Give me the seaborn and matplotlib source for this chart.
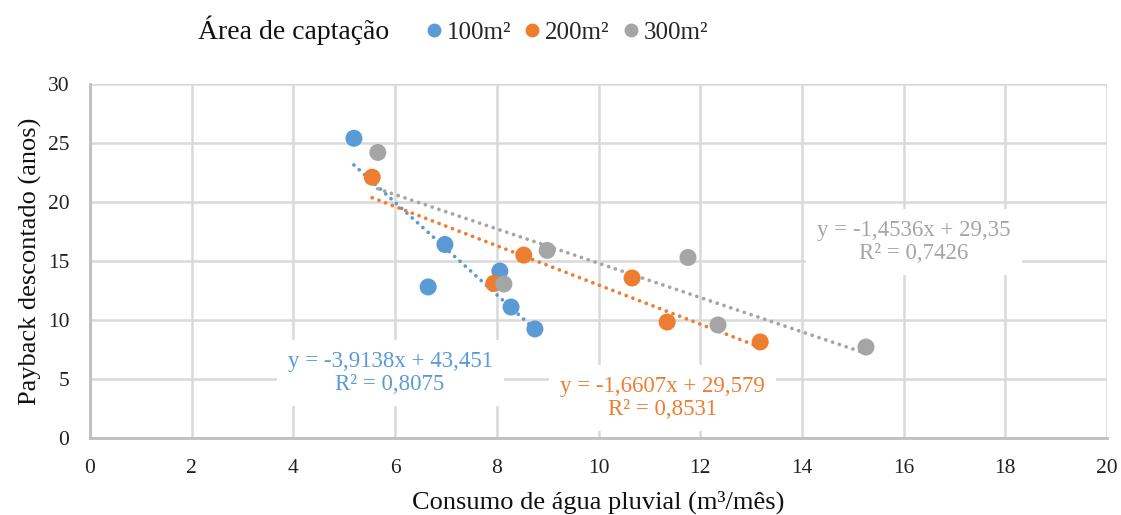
import numpy as np
import pandas as pd
import matplotlib
matplotlib.use("Agg")
import matplotlib.pyplot as plt
import seaborn as sns

# Rainwater consumption (m³/month) and discounted payback (years) per catchment area
x_100 = [5.19, 6.65, 6.98, 8.06, 8.28, 8.75]
y_100 = [25.4, 12.8, 16.4, 14.15, 11.1, 9.24]
x_200 = [5.55, 7.94, 8.53, 10.66, 11.35, 13.18]
y_200 = [22.1, 13.1, 15.5, 13.56, 9.83, 8.14]
x_300 = [5.66, 8.14, 8.99, 11.76, 12.35, 15.26]
y_300 = [24.2, 13.05, 15.9, 15.3, 9.58, 7.71]

areas = ["100m²", "200m²", "300m²"]
# Linear trendlines: slope, intercept, R²
slopes = [-3.9138, -1.6607, -1.4536]
intercepts = [43.451, 29.579, 29.35]
r2 = [0.8075, 0.8531, 0.7426]
eq_labels = ["y = -3,9138x + 43,451\nR² = 0,8075",
             "y = -1,6607x + 29,579\nR² = 0,8531",
             "y = -1,4536x + 29,35\nR² = 0,7426"]

colors = ["#5b9bd5", "#ed7d31", "#a5a5a5"]

df = pd.DataFrame({
    "x": x_100 + x_200 + x_300,
    "y": y_100 + y_200 + y_300,
    "area": [areas[0]] * len(x_100) + [areas[1]] * len(x_200) + [areas[2]] * len(x_300),
})

sns.set_theme(style="whitegrid")
plt.rcParams["font.family"] = ["Liberation Serif", "DejaVu Serif"]

fig = plt.figure(figsize=(11.21, 5.15), dpi=100)
ax = fig.add_axes([0.0803, 0.1495, 0.9072, 0.6874])

xs_all = [x_100, x_200, x_300]
for xs, m, b, c in zip(xs_all, slopes, intercepts, colors):
    xx = np.array([min(xs), max(xs)])
    ax.plot(xx, m * xx + b, linestyle=(0, (0.01, 1.9)), color=c, lw=2.7,
            dash_capstyle="round", solid_capstyle="round", zorder=2)

sns.scatterplot(data=df, x="x", y="y", hue="area", palette=colors,
                s=150, edgecolor="none", ax=ax, zorder=3, legend=False)

# Equation boxes
label_pos = [(5.9, 5.5), (11.25, 3.4), (16.2, 16.6)]
for (tx, ty), txt, c in zip(label_pos, eq_labels, colors):
    ax.text(tx, ty, txt, color=c, fontsize=16.5, ha="center", va="center",
            linespacing=1.1, zorder=4,
            bbox=dict(facecolor="white", edgecolor="none", pad=8))

ax.set_xlim(0, 20)
ax.set_ylim(0, 30)
ax.set_xticks(np.arange(0, 21, 2))
ax.set_yticks(np.arange(0, 31, 5))
ax.tick_params(labelsize=15.5, colors="#222222", length=0)
ax.tick_params(axis="x", pad=15)
ax.tick_params(axis="y", pad=15)
ax.grid(True, color="#d9d9d9", lw=1.8)
for side in ["top", "right"]:
    ax.spines[side].set_visible(False)
for side in ["left", "bottom"]:
    ax.spines[side].set_color("#bfbfbf")
    ax.spines[side].set_linewidth(2)

ax.set_xlabel("Consumo de água pluvial (m³/mês)", fontsize=19, color="#111111", labelpad=9)
ax.set_ylabel("Payback descontado (anos)", fontsize=19, color="#111111", labelpad=4)

# Legend with the title to the left of the entries
fig.text(0.177, 0.942, "Área de captação", fontsize=20, ha="left", va="center", color="#111111")
handles = [plt.Line2D([], [], marker="o", linestyle="none", markersize=10,
                      markerfacecolor=c, markeredgecolor="none") for c in colors]
fig.legend(handles, areas, loc="center left", bbox_to_anchor=(0.356, 0.936),
           ncol=3, frameon=False, fontsize=18, handletextpad=0.0,
           columnspacing=0.35, handlelength=1.0)

fig.savefig("out.png", dpi=100)
